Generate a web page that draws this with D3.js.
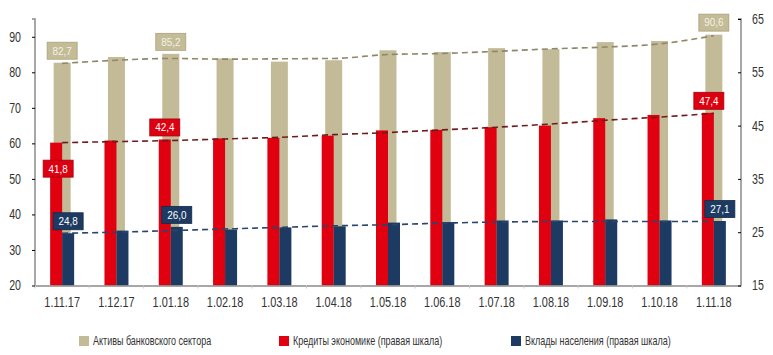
<!DOCTYPE html>
<html lang="ru">
<head>
    <meta charset="UTF-8">
    <title>Активы, кредиты и вклады</title>
    <script src="https://d3js.org/d3.v7.min.js"></script>
    <style>
        body { margin: 0; background: #fff; }
        text { font-family: "Liberation Sans", Arial, sans-serif; }
    </style>
</head>
<body>
<script>
    const width  = 773;
    const height = 355;

    const dates   = ["1.11.17","1.12.17","1.01.18","1.02.18","1.03.18","1.04.18","1.05.18",
                     "1.06.18","1.07.18","1.08.18","1.09.18","1.10.18","1.11.18"];
    const assets  = [82.7, 84.3, 85.2, 83.9, 83.0, 83.4, 86.2, 85.7, 86.8, 86.5, 88.5, 88.8, 90.6];
    const credits = [41.8, 42.2, 42.4, 42.6, 42.7, 43.1, 44.1, 44.2, 44.7, 45.0, 46.4, 47.0, 47.4];
    const deposits= [24.8, 25.3, 26.0, 25.5, 25.9, 26.1, 26.8, 26.9, 27.2, 27.2, 27.4, 27.2, 27.1];

    // dashed trend lines at each date
    const assetsTrend   = [82.5, 83.4, 83.9, 83.7, 83.8, 83.9, 85.0, 85.3, 85.9, 86.6, 87.1, 88.0, 90.3];
    const creditsTrend  = [41.8, 42.0, 42.2, 42.5, 42.8, 43.3, 43.7, 44.2, 44.7, 45.3, 46.0, 46.6, 47.3];
    const depositsTrend = [24.8, 25.0, 25.3, 25.6, 25.9, 26.2, 26.4, 26.7, 26.9, 27.0, 27.0, 27.0, 27.0];

    const leftTicks  = [20, 30, 40, 50, 60, 70, 80, 90];
    const rightTicks = [15, 25, 35, 45, 55, 65];
    const legendNames = ["Активы банковского сектора",
                         "Кредиты экономике (правая шкала)",
                         "Вклады населения (правая шкала)"];

    const tan  = "#c3bb98";
    const red  = "#e00010";
    const navy = "#1c3a62";

    const x = d3.scaleBand().domain(dates).range([35, 741]);
    const yL = d3.scaleLinear().domain([20, 95]).range([285.5, 19]);
    const yR = d3.scaleLinear().domain([15, 65]).range([285.5, 19]);
    const cx = d => x(d) + x.bandwidth() / 2;

    const svg = d3.select("body").append("svg").attr("width", width).attr("height", height);

    // bars
    svg.append("g").selectAll("rect").data(dates).join("rect")
        .attr("x", d => cx(d) - 8.5).attr("width", 17)
        .attr("y", (d, i) => yL(assets[i]))
        .attr("height", (d, i) => yL(20) - yL(assets[i]))
        .attr("fill", tan);
    svg.append("g").selectAll("rect").data(dates).join("rect")
        .attr("x", d => cx(d) - 12).attr("width", 12)
        .attr("y", (d, i) => yR(credits[i]))
        .attr("height", (d, i) => yR(15) - yR(credits[i]))
        .attr("fill", red);
    svg.append("g").selectAll("rect").data(dates).join("rect")
        .attr("x", d => cx(d)).attr("width", 12)
        .attr("y", (d, i) => yR(deposits[i]))
        .attr("height", (d, i) => yR(15) - yR(deposits[i]))
        .attr("fill", navy);

    const trends = [
        {vals: assetsTrend,   y: yL, color: "#8e8768"},
        {vals: creditsTrend,  y: yR, color: "#6e1b1b"},
        {vals: depositsTrend, y: yR, color: "#28476b"}
    ];
    trends.forEach(t => {
        const line = d3.line().curve(d3.curveMonotoneX)
            .x((d, i) => cx(dates[i]))
            .y(d => t.y(d));
        svg.append("path")
            .attr("d", line(t.vals))
            .style("stroke", t.color)
            .style("stroke-width", 1.6)
            .style("stroke-dasharray", "6,4")
            .style("fill", "none");
    });

    // axes
    const axisColor = "#8a8a8a";
    const narrow = "scale(0.76,1)";
    const xAxis = d3.axisBottom(x).tickSize(0).tickPadding(12);
    const yAxisL = d3.axisLeft(yL).tickValues(leftTicks).tickSize(3).tickPadding(15.4);
    const yAxisR = d3.axisRight(yR).tickValues(rightTicks).tickSize(-3).tickPadding(14.5);

    const gx = svg.append("g").attr("transform", "translate(" + [0, 285.5] + ")").call(xAxis);
    gx.selectAll(".tick")
      .append("line")
      .attr("x1", -x.bandwidth() / 2).attr("x2", -x.bandwidth() / 2)
      .attr("y1", 0).attr("y2", 3)
      .attr("stroke", "#c8c8c8");
    const gl = svg.append("g").attr("transform", "translate(" + [35, 0] + ")").call(yAxisL);
    const gr = svg.append("g").attr("transform", "translate(" + [741, 0] + ")").call(yAxisR);

    [gx, gl, gr].forEach(g => {
        g.select(".domain").attr("stroke", axisColor).attr("stroke-width", 1.5);
        g.selectAll(".tick line").filter(function () { return !this.getAttribute("stroke"); })
            .attr("stroke", axisColor);
        g.selectAll("text").attr("fill", "#333").style("font-size", "14px")
            .style("font-family", "'Liberation Sans', Arial, sans-serif")
            .attr("transform", narrow);
    });
    gx.selectAll("text").attr("transform", "scale(0.78,1)");
    gl.select(".domain").attr("d", "M-3," + yL(95) + "H0V" + yL(20));
    gr.select(".domain").attr("d", "M-3," + yR(65) + "H0V" + yR(15));

    // value labels
    const fmt = v => d3.format(".1f")(v).replace(".", ",");
    const labels = [
        {i: 0,  vals: assets,   y: yL, fill: "#c4bc97", stroke: "#a9a17e", text: "#f4f1e6", dx: 0,  dy: -12},
        {i: 2,  vals: assets,   y: yL, fill: "#c4bc97", stroke: "#a9a17e", text: "#f4f1e6", dx: 0,  dy: -12},
        {i: 12, vals: assets,   y: yL, fill: "#c4bc97", stroke: "#a9a17e", text: "#f4f1e6", dx: 0,  dy: -12},
        {i: 0,  vals: credits,  y: yR, fill: "#dd0010", stroke: "#a8000a", text: "#ffffff", dx: -4, dy: 26},
        {i: 2,  vals: credits,  y: yR, fill: "#dd0010", stroke: "#a8000a", text: "#ffffff", dx: -6, dy: -12},
        {i: 12, vals: credits,  y: yR, fill: "#dd0010", stroke: "#a8000a", text: "#ffffff", dx: -5, dy: -12},
        {i: 0,  vals: deposits, y: yR, fill: "#1c3a62", stroke: "#142a48", text: "#ffffff", dx: 6,  dy: -12},
        {i: 2,  vals: deposits, y: yR, fill: "#1c3a62", stroke: "#142a48", text: "#ffffff", dx: 6,  dy: -12},
        {i: 12, vals: deposits, y: yR, fill: "#1c3a62", stroke: "#142a48", text: "#ffffff", dx: 6,  dy: -12}
    ];
    labels.forEach(l => {
        const px = cx(dates[l.i]) + l.dx;
        const py = l.y(l.vals[l.i]) + l.dy;
        const g = svg.append("g").attr("transform", "translate(" + [px, py] + ")");
        g.append("rect").attr("x", -15).attr("y", -8.5).attr("width", 30).attr("height", 17)
            .attr("fill", l.fill).attr("stroke", l.stroke).attr("stroke-width", 0.8);
        g.append("text").attr("text-anchor", "middle").attr("dy", "0.35em")
            .attr("transform", "scale(0.9,1)")
            .style("font-size", "11px").attr("fill", l.text).text(fmt(l.vals[l.i]));
    });

    // legend
    const legendX = [79, 279, 511];
    const legendColors = [tan, red, navy];
    legendNames.forEach((name, i) => {
        const g = svg.append("g").attr("transform", "translate(" + [legendX[i], 341] + ")");
        g.append("rect").attr("x", 0).attr("y", -5).attr("width", 10).attr("height", 10)
            .attr("fill", legendColors[i]);
        g.append("g").attr("transform", "translate(14,0) scale(0.72,1)")
            .append("text").attr("dy", "0.35em")
            .style("font-size", "12.5px").attr("fill", "#333").text(name);
    });
</script>
</body>
</html>
